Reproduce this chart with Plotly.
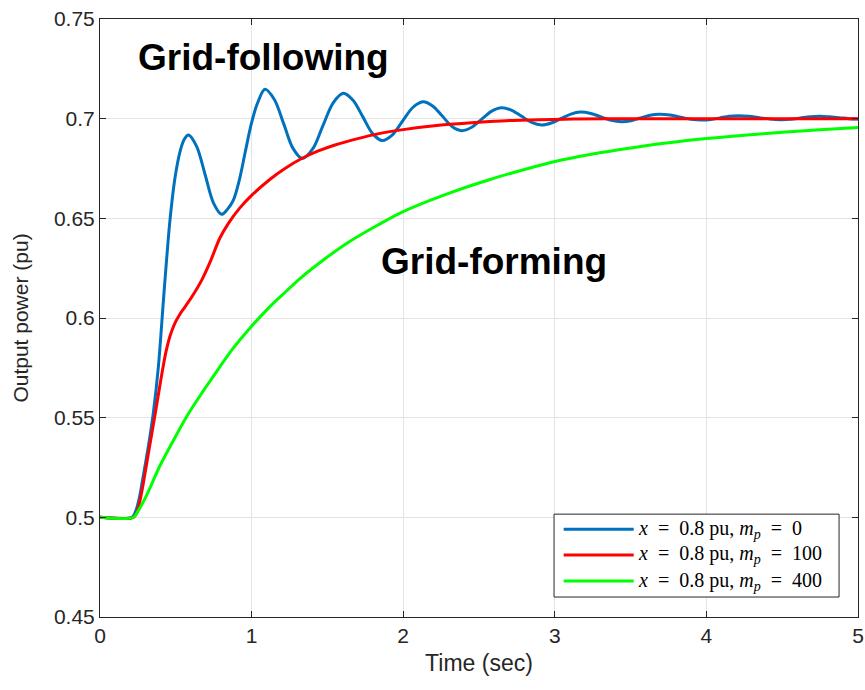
import plotly.graph_objects as go

# ---- data ----
t_blue = [0.00, 0.21, 0.235, 0.26, 0.286, 0.32, 0.352, 0.385, 0.418, 0.44, 0.462, 0.495, 0.528, 0.555,
          0.583, 0.638, 0.693, 0.748, 0.803, 0.84, 0.879, 0.92, 0.96, 1.00, 1.04, 1.088,
          1.15, 1.212, 1.273, 1.335, 1.403, 1.47, 1.538, 1.605, 1.669, 1.734, 1.798, 1.862,
          1.929, 1.996, 2.063, 2.13, 2.194, 2.258, 2.322, 2.386, 2.452, 2.518, 2.584, 2.65,
          2.716, 2.781, 2.847, 2.913, 2.977, 3.04, 3.106, 3.17, 3.237, 3.305, 3.372, 3.44,
          3.503, 3.565, 3.628, 3.69, 3.76, 3.83, 3.90, 3.97, 4.03, 4.09, 4.15, 4.21, 4.28,
          4.35, 4.42, 4.49, 4.555, 4.62, 4.685, 4.75, 4.81, 4.875, 4.94, 5.00]
p_blue = [0.500, 0.500, 0.503, 0.510, 0.521, 0.536, 0.5525, 0.5755, 0.6085, 0.630, 0.6495, 0.6705, 0.6835,
          0.6895, 0.6918, 0.686, 0.672, 0.6578, 0.652, 0.6545, 0.659, 0.6695, 0.684, 0.698, 0.708, 0.7147,
          0.7096, 0.6974, 0.6851, 0.680, 0.6848, 0.6964, 0.7079, 0.7127, 0.7092, 0.7009, 0.6925, 0.689,
          0.6919, 0.6988, 0.7056, 0.7085, 0.7064, 0.7013, 0.6961, 0.694, 0.6957, 0.6998, 0.7038, 0.7055,
          0.7042, 0.7012, 0.6981, 0.6968, 0.6978, 0.7000, 0.7023, 0.7033, 0.7026, 0.7009, 0.6992, 0.6985,
          0.6990, 0.70035, 0.7017, 0.7022, 0.7018, 0.70075, 0.6997, 0.6993, 0.6996, 0.7004, 0.7012, 0.7015,
          0.7012, 0.7005, 0.6998, 0.6995, 0.6997, 0.70035, 0.7010, 0.7012, 0.7009, 0.7005, 0.7000, 0.6998]

t_red = [0.00, 0.22, 0.24, 0.264, 0.29, 0.319, 0.363, 0.407, 0.435, 0.462, 0.495, 0.528, 0.56, 0.605,
         0.671, 0.726, 0.79, 0.847, 0.92, 1.00, 1.12, 1.22, 1.33, 1.44, 1.55, 1.70, 1.84, 2.00, 2.25,
         2.45, 2.68, 2.90, 3.12, 3.50, 4.00, 4.50, 5.00]
p_red = [0.500, 0.500, 0.502, 0.5085, 0.519, 0.532, 0.5515, 0.5715, 0.583, 0.591, 0.5975, 0.602, 0.6055,
         0.6105, 0.619, 0.628, 0.640, 0.6475, 0.655, 0.6615, 0.6695, 0.675, 0.680, 0.6838, 0.6868, 0.6900,
         0.6925, 0.6945, 0.6968, 0.698, 0.699, 0.6995, 0.6998, 0.700, 0.700, 0.700, 0.700]

t_green = [0.00, 0.22, 0.25, 0.307, 0.396, 0.48, 0.572, 0.66, 0.747, 0.87, 0.99, 1.121, 1.22, 1.319,
           1.48, 1.649, 1.836, 2.00, 2.309, 2.573, 2.80, 3.00, 3.25, 3.50, 3.75, 4.00, 4.25, 4.50, 4.75, 5.00]
p_green = [0.500, 0.500, 0.503, 0.511, 0.526, 0.538, 0.5506, 0.561, 0.5707, 0.584, 0.595, 0.6057, 0.6128,
           0.6198, 0.6295, 0.6385, 0.6468, 0.6534, 0.6628, 0.6695, 0.6745, 0.6785, 0.6823, 0.6853, 0.6879,
           0.6900, 0.6917, 0.6932, 0.6945, 0.6956]

NB = "\u00a0"
series_names = [f"<i>x</i>{NB}{NB}={NB}{NB}0.8 pu, <i>m</i><sub><i>p</i></sub>{NB}{NB}={NB}{NB}0",
                f"<i>x</i>{NB}{NB}={NB}{NB}0.8 pu, <i>m</i><sub><i>p</i></sub>{NB}{NB}={NB}{NB}100",
                f"<i>x</i>{NB}{NB}={NB}{NB}0.8 pu, <i>m</i><sub><i>p</i></sub>{NB}{NB}={NB}{NB}400"]
series_colors = ["#0072BD", "#FF0000", "#00FF00"]

x_ticks = [0, 1, 2, 3, 4, 5]
y_ticks = [0.45, 0.5, 0.55, 0.6, 0.65, 0.7, 0.75]
y_ticklabels = ["0.45", "0.5", "0.55", "0.6", "0.65", "0.7", "0.75"]

fig = go.Figure()
for tt, pp, name, col in zip([t_blue, t_red, t_green], [p_blue, p_red, p_green], series_names, series_colors):
    fig.add_trace(go.Scatter(x=tt, y=pp, mode="lines", name=name, showlegend=False,
                             line=dict(color=col, width=3, shape="spline", smoothing=0.9)))

axis_col = "#262626"
fig.update_xaxes(range=[0, 5], tickvals=x_ticks, ticks="inside", ticklen=6, tickcolor=axis_col,
                 showline=True, linecolor=axis_col, linewidth=1, mirror="ticks", automargin=False,
                 showgrid=True, gridcolor="#e3e3e3", gridwidth=1, zeroline=False,
                 tickfont=dict(family="Liberation Sans, Arial", size=21, color=axis_col),
                 title=dict(text="Time (sec)", font=dict(family="Liberation Sans, Arial", size=23, color=axis_col),
                            standoff=8))
fig.update_yaxes(range=[0.45, 0.75], tickvals=y_ticks, ticktext=y_ticklabels, ticks="inside", ticklen=6,
                 tickcolor=axis_col, showline=True, linecolor=axis_col, linewidth=1, mirror="ticks",
                 automargin=False,
                 showgrid=True, gridcolor="#e3e3e3", gridwidth=1, zeroline=False,
                 tickfont=dict(family="Liberation Sans, Arial", size=21, color=axis_col),
                 title=dict(text="Output power (pu)", font=dict(family="Liberation Sans, Arial", size=21, color=axis_col),
                            standoff=19))

fig.add_annotation(x=1.078, y=0.7305, text="<b>Grid-following</b>", showarrow=False,
                   font=dict(family="Liberation Sans, Arial", size=37, color="black"),
                   xanchor="center", yanchor="middle")
fig.add_annotation(x=2.6, y=0.6285, text="<b>Grid-forming</b>", showarrow=False,
                   font=dict(family="Liberation Sans, Arial", size=37, color="black"),
                   xanchor="center", yanchor="middle")

# ---- legend box drawn by hand (long line samples like the reference) ----
leg_x0, leg_x1, leg_y0, leg_y1 = 0.599, 0.975, 0.0334, 0.172
row_y = [0.1467, 0.1037, 0.0602]
fig.add_shape(type="rect", xref="paper", yref="paper", x0=leg_x0, x1=leg_x1, y0=leg_y0, y1=leg_y1,
              line=dict(color="#262626", width=1), fillcolor="white", layer="above")
for ry, name, col in zip(row_y, series_names, series_colors):
    fig.add_shape(type="line", xref="paper", yref="paper", x0=0.6117, x1=0.7041, y0=ry, y1=ry,
                  line=dict(color=col, width=3), layer="above")
    fig.add_annotation(xref="paper", yref="paper", x=0.7075, y=ry, text=name, showarrow=False,
                       xanchor="left", yanchor="middle",
                       font=dict(family="Liberation Serif, Times New Roman", size=20, color="black"))

fig.update_layout(
    width=865, height=690,
    margin=dict(l=100, r=7, t=19, b=73),
    plot_bgcolor="white", paper_bgcolor="white",
    showlegend=False,
)

fig.write_html("out.html")
